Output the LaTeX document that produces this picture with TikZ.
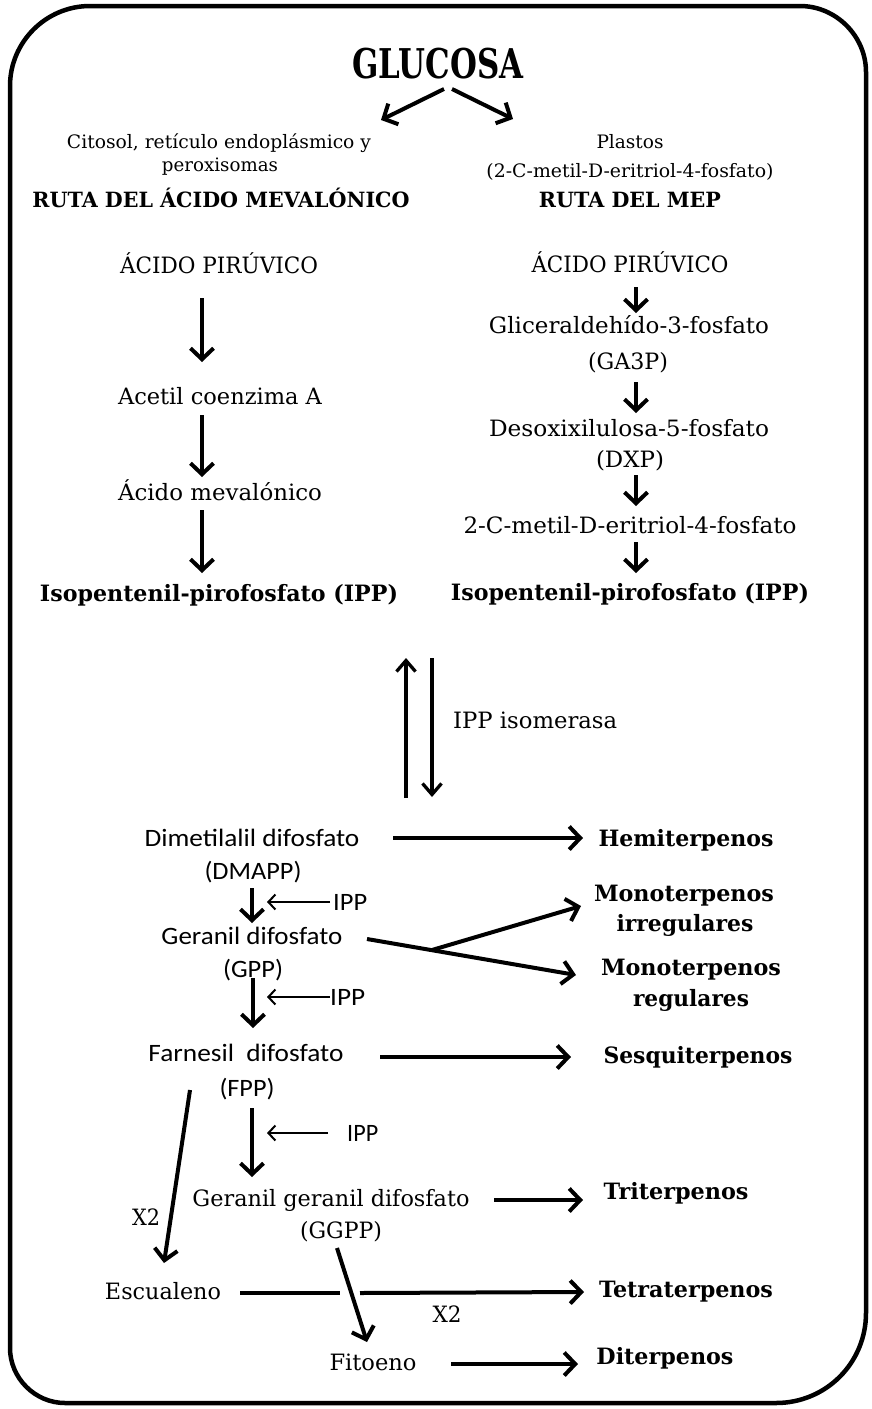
\documentclass[tikz,border=0pt]{standalone}
\usepackage{fontspec}
\usepackage{graphicx}
\setmainfont{DejaVu Serif}
\newfontfamily\calib{Carlito}
\usetikzlibrary{arrows.meta}
\newcommand\fw[2]{\resizebox{#1pt}{\height}{#2}}
\begin{document}
\begin{tikzpicture}[x=1pt,y=-1pt,
  t/.style={inner sep=0pt, anchor=base, font=\fontsize{22.5}{26}\selectfont},
  tb/.style={inner sep=0pt, anchor=base, font=\bfseries\fontsize{22.5}{26}\selectfont},
  ts/.style={inner sep=0pt, anchor=base, font=\calib\fontsize{25}{28}\selectfont},
  hd/.style={inner sep=0pt, anchor=base, font=\fontsize{18.5}{22}\selectfont},
  hdb/.style={inner sep=0pt, anchor=base, font=\bfseries\fontsize{21}{24}\selectfont},
  glu/.style={inner sep=0pt, anchor=base, font=\bfseries\fontsize{41}{44}\selectfont},
  big/.style={-{Straight Barb[length=11pt,width=23pt]}, line width=4pt},
  med/.style={-{Straight Barb[length=11pt,width=19pt]}, line width=3.3pt},
  thinarr/.style={-{Straight Barb[length=7pt,width=15pt]}, line width=2pt},
  plain/.style={line width=4pt},
  frame/.style={line width=4.5pt}]
\useasboundingbox (0,0) rectangle (872,1409);
\fill[white] (0,0) rectangle (872,1409);

% frame
\draw[frame] (10,86) .. controls (10,42) and (46,6) .. (90,6) -- (800,6)
  .. controls (836,6) and (866,36) .. (866,72) -- (866,1313)
  .. controls (866,1363) and (826,1403) .. (776,1403) -- (65,1403)
  .. controls (35,1403) and (10,1378) .. (10,1348) -- cycle;

% header
\node[glu] (glucosa) at (438,78) {\fw{171}{GLUCOSA}};
\coordinate (g1) at (444,89); \coordinate (g2) at (381,120);
\coordinate (g3) at (452,89); \coordinate (g4) at (513,119);
\draw[big] (g1) -- (g2);
\draw[big] (g3) -- (g4);

\node[hd] (cito) at (219,148) {\fw{304}{Citosol, retículo endoplásmico y}};
\node[hd] (perox) at (220,171) {\fw{116}{peroxisomas}};
\node[hdb] (rutaAM) at (221,207) {\fw{377}{RUTA DEL ÁCIDO MEVALÓNICO}};
\node[hd] (plastos) at (630,148) {\fw{67}{Plastos}};
\node[hd] (mepname) at (630,177) {\fw{287}{(2-C-metil-D-eritriol-4-fosfato)}};
\node[hdb] (rutaMEP) at (630,207) {\fw{182}{RUTA DEL MEP}};

% left column
\node[t] (pirL) at (219,273) {\fw{198}{ÁCIDO PIRÚVICO}};
\node[t] (acetil) at (220,404) {\fw{204}{Acetil coenzima A}};
\node[t] (meval) at (220,500) {\fw{204}{Ácido mevalónico}};
\node[tb] (ippL) at (219,601) {\fw{358}{Isopentenil-pirofosfato (IPP)}};
\coordinate (l1a) at (202,298); \coordinate (l1b) at (202,362);
\coordinate (l2a) at (202,415); \coordinate (l2b) at (202,477);
\coordinate (l3a) at (202,510); \coordinate (l3b) at (202,573);
\draw[big] (l1a) -- (l1b);
\draw[big] (l2a) -- (l2b);
\draw[big] (l3a) -- (l3b);

% right column
\node[t] (pirR) at (630,272) {\fw{197}{ÁCIDO PIRÚVICO}};
\node[t] (glic) at (629,333) {\fw{280}{Gliceraldehído-3-fosfato}};
\node[t] (ga3p) at (628,369) {\fw{80}{(GA3P)}};
\node[t] (desox) at (629,436) {\fw{280}{Desoxixilulosa-5-fosfato}};
\node[t] (dxp) at (630,467) {\fw{68}{(DXP)}};
\node[t] (mep) at (630,533) {\fw{333}{2-C-metil-D-eritriol-4-fosfato}};
\node[tb] (ippR) at (630,600) {\fw{358}{Isopentenil-pirofosfato (IPP)}};
\coordinate (r1a) at (636,287); \coordinate (r1b) at (636,313);
\coordinate (r2a) at (636,382); \coordinate (r2b) at (636,413);
\coordinate (r3a) at (636,475); \coordinate (r3b) at (636,506);
\coordinate (r4a) at (636,542); \coordinate (r4b) at (636,573);
\draw[big] (r1a) -- (r1b);
\draw[big] (r2a) -- (r2b);
\draw[big] (r3a) -- (r3b);
\draw[big] (r4a) -- (r4b);

% isomerase
\coordinate (isoUa) at (406,798); \coordinate (isoUb) at (406,658);
\coordinate (isoDa) at (432,658); \coordinate (isoDb) at (432,797);
\draw[med] (isoUa) -- (isoUb);
\draw[med] (isoDa) -- (isoDb);
\node[t, anchor=base west] (isom) at (453,728) {\fw{164}{IPP isomerasa}};

% lower chain
\node[ts] (dmapp1) at (252,846) {\fw{215}{Dimetilalil difosfato}};
\node[ts] (dmapp2) at (253,879) {\fw{97}{(DMAPP)}};
\node[ts] (gpp1) at (252,944) {\fw{181}{Geranil difosfato}};
\node[ts] (gpp2) at (253,977) {\fw{60}{(GPP)}};
\node[ts] (fpp1) at (246,1061) {\fw{195}{Farnesil\ \ difosfato}};
\node[ts] (fpp2) at (247,1096) {\fw{55}{(FPP)}};
\node[t] (ggpp1) at (331,1206) {\fw{277}{Geranil geranil difosfato}};
\node[t] (ggpp2) at (341,1238) {\fw{82}{(GGPP)}};
\node[t] (escu) at (163,1299) {\fw{116}{Escualeno}};
\node[t] (fito) at (373,1370) {\fw{87}{Fitoeno}};
\node[t] (x2a) at (146,1225) {\fw{28}{X2}};
\node[t] (x2b) at (447,1322) {\fw{29}{X2}};

\node[ts, anchor=base west] (ipp1) at (333,910) {\fw{34}{IPP}};
\node[ts, anchor=base west] (ipp2) at (330,1005) {\fw{35}{IPP}};
\node[ts, anchor=base west] (ipp3) at (347,1141) {\fw{31}{IPP}};

% products
\node[tb] (hemi) at (686,846) {\fw{175}{Hemiterpenos}};
\node[tb] (monoI1) at (684,901) {\fw{180}{Monoterpenos}};
\node[tb] (monoI2) at (685,931) {\fw{137}{irregulares}};
\node[tb] (monoR1) at (691,975) {\fw{180}{Monoterpenos}};
\node[tb] (monoR2) at (691,1006) {\fw{116}{regulares}};
\node[tb] (sesq) at (698,1063) {\fw{189}{Sesquiterpenos}};
\node[tb] (tri) at (676,1199) {\fw{145}{Triterpenos}};
\node[tb] (tetra) at (686,1297) {\fw{174}{Tetraterpenos}};
\node[tb] (di) at (665,1364) {\fw{137}{Diterpenos}};

% arrows lower
\coordinate (h1) at (393,838); \coordinate (h2) at (583,838);
\draw[big] (h1) -- (h2);
\coordinate (d1) at (252,888); \coordinate (d2) at (252,923);
\draw[big] (d1) -- (d2);
\coordinate (i1a) at (330,902); \coordinate (i1b) at (267,902);
\draw[thinarr] (i1a) -- (i1b);
\coordinate (gp0) at (367,939); \coordinate (gpj) at (432,950);
\coordinate (gpU) at (581,906); \coordinate (gpL) at (576,975);
\draw[big] (gp0) -- (gpL);
\draw[big] (gpj) -- (gpU);
\coordinate (f1) at (253,978); \coordinate (f2) at (253,1028);
\draw[big] (f1) -- (f2);
\coordinate (i2a) at (330,997); \coordinate (i2b) at (267,997);
\draw[thinarr] (i2a) -- (i2b);
\coordinate (s1) at (380,1057); \coordinate (s2) at (571,1057);
\draw[big] (s1) -- (s2);
\coordinate (e1) at (190,1090); \coordinate (e2) at (164,1263);
\draw[big] (e1) -- (e2);
\coordinate (gg1) at (252,1108); \coordinate (gg2) at (252,1177);
\draw[big] (gg1) -- (gg2);
\coordinate (i3a) at (328,1133); \coordinate (i3b) at (267,1133);
\draw[thinarr] (i3a) -- (i3b);
\coordinate (t1) at (494,1200); \coordinate (t2) at (583,1200);
\draw[big] (t1) -- (t2);
\coordinate (q1) at (240,1293); \coordinate (q2) at (340,1293);
\coordinate (q3) at (360,1293); \coordinate (q4) at (584,1292);
\draw[plain] (q1) -- (q2);
\draw[big] (q3) -- (q4);
\coordinate (p1) at (337,1248); \coordinate (p2) at (367,1342);
\draw[big] (p1) -- (p2);
\coordinate (di1) at (451,1364); \coordinate (di2) at (578,1364);
\draw[big] (di1) -- (di2);
\end{tikzpicture}
\end{document}
